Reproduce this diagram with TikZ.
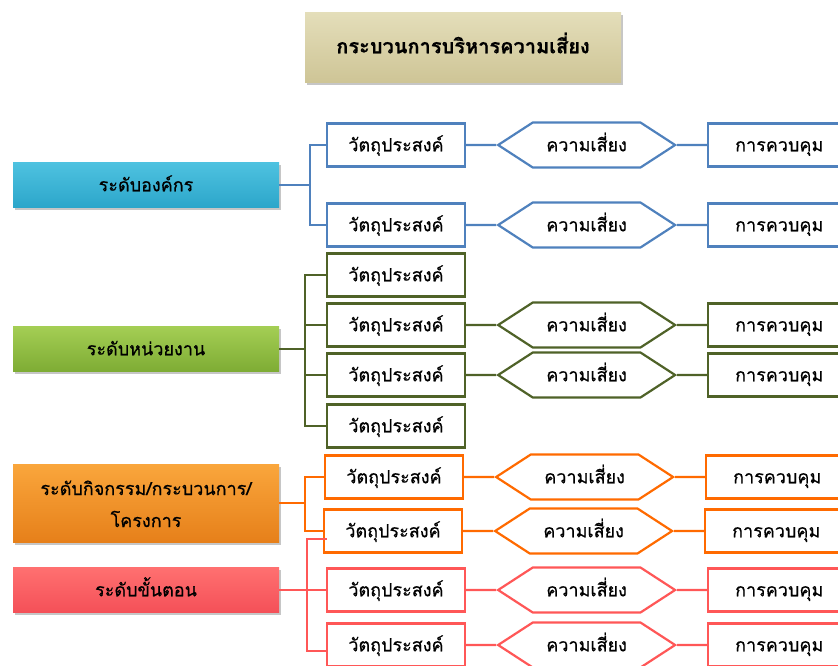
\documentclass[tikz,border=0pt]{standalone}
\usepackage{fontspec}
\newfontfamily\thaifont[Script=Thai,FakeBold=0.6]{Loma}
\usetikzlibrary{positioning,shapes.symbols,shadows}

\definecolor{bluelink}{HTML}{4F81BD}
\definecolor{greenlink}{HTML}{4F6228}
\definecolor{orangelink}{HTML}{FF6A00}
\definecolor{redlink}{HTML}{FF5757}

\begin{document}
\begin{tikzpicture}[x=1pt,y=-1pt,node distance=30pt,
  every node/.style={font=\thaifont\fontsize{18}{22}\selectfont,
    text height=1.25em,text depth=0em},
  link/.style={line width=2.2pt}
]

\tikzstyle{lvl}=[minimum width=266pt,minimum height=45pt,inner sep=2pt,
  drop shadow={opacity=0.45,shadow xshift=1.5pt,shadow yshift=-2.5pt}]
\tikzstyle{obj}=[draw,line width=2.2pt,fill=white,minimum width=138pt,minimum height=43pt]
\tikzstyle{risk}=[draw,line width=2.2pt,fill=white,shape=signal,signal to=west and east,
  signal pointer angle=66,minimum width=177pt,minimum height=45pt,inner sep=0pt]
\tikzstyle{ctrl}=[obj,minimum width=142pt]

\useasboundingbox (0,0) rectangle (838,665);
\clip (0,0) rectangle (838,665);

% title
\node [lvl,minimum width=316pt,minimum height=70pt,top color={rgb,255:red,228;green,222;blue,186},
  bottom color={rgb,255:red,206;green,197;blue,150},
  font=\thaifont\bfseries\fontsize{20}{24}\selectfont] (title) at (463,47)
  {กระบวนการบริหารความเสี่ยง};

% levels
\node [lvl,top color={rgb,255:red,78;green,194;blue,224},bottom color={rgb,255:red,44;green,166;blue,202}]
  (org) at (146,185) {ระดับองค์กร};
\node [lvl,top color={rgb,255:red,164;green,206;blue,84},bottom color={rgb,255:red,126;green,172;blue,52}]
  (unit) at (146,349) {ระดับหน่วยงาน};
\node [lvl,minimum height=78pt,align=center,text height=48pt,text depth=0pt,
  top color={rgb,255:red,250;green,166;blue,60},bottom color={rgb,255:red,230;green,128;blue,26}]
  (act) at (146,503) {ระดับกิจกรรม/กระบวนการ/\\[10pt]โครงการ};
\node [lvl,top color={rgb,255:red,255;green,112;blue,112},bottom color={rgb,255:red,244;green,80;blue,88}]
  (task) at (146,590) {ระดับขั้นตอน};

% objectives
\node [obj,draw=bluelink] (ob1) at (396,145) {วัตถุประสงค์};
\node [obj,draw=bluelink] (ob2) at (396,225) {วัตถุประสงค์};
\node [obj,draw=greenlink] (og1) at (396,275) {วัตถุประสงค์};
\node [obj,draw=greenlink] (og2) at (396,325) {วัตถุประสงค์};
\node [obj,draw=greenlink] (og3) at (396,375) {วัตถุประสงค์};
\node [obj,draw=greenlink] (og4) at (396,426) {วัตถุประสงค์};
\node [obj,draw=orangelink] (oo1) at (394,477) {วัตถุประสงค์};
\node [obj,draw=orangelink] (oo2) at (393,531) {วัตถุประสงค์};
\node [obj,draw=redlink] (or1) at (396,590) {วัตถุประสงค์};
\node [obj,draw=redlink] (or2) at (396,645) {วัตถุประสงค์};

% risk and control
\foreach \o/\col in {ob1/bluelink,ob2/bluelink,og2/greenlink,og3/greenlink,
                     oo1/orangelink,oo2/orangelink,or1/redlink,or2/redlink} {
  \node [risk,draw=\col,right=of \o] (k\o) {ความเสี่ยง};
  \node [ctrl,draw=\col,right=of k\o] (c\o) {การควบคุม};
  \draw [link,\col] (\o) -- (k\o) -- (c\o);
}

% trunks
\coordinate (tb) at (310,185);
\draw [link,bluelink] (org) -- (tb);
\draw [link,bluelink] (ob1) -| (tb) |- (ob2);

\coordinate (tg) at (305,349);
\draw [link,greenlink] (unit) -- (tg);
\draw [link,greenlink] (og1) -| (tg) |- (og4);
\draw [link,greenlink] (og2) -- (og2 -| tg);
\draw [link,greenlink] (og3) -- (og3 -| tg);

\coordinate (to) at (305,503);
\draw [link,orangelink] (act) -- (to);
\draw [link,orangelink] (oo1) -| (to) |- (oo2);

\coordinate (rtop) at (307,539);
\coordinate (rtip) at (327,539);
\draw [link,redlink] (task) -- (or1);
\draw [link,redlink] (rtip) -- (rtop) |- ([yshift=-6pt]or2.west);
\end{tikzpicture}
\end{document}
